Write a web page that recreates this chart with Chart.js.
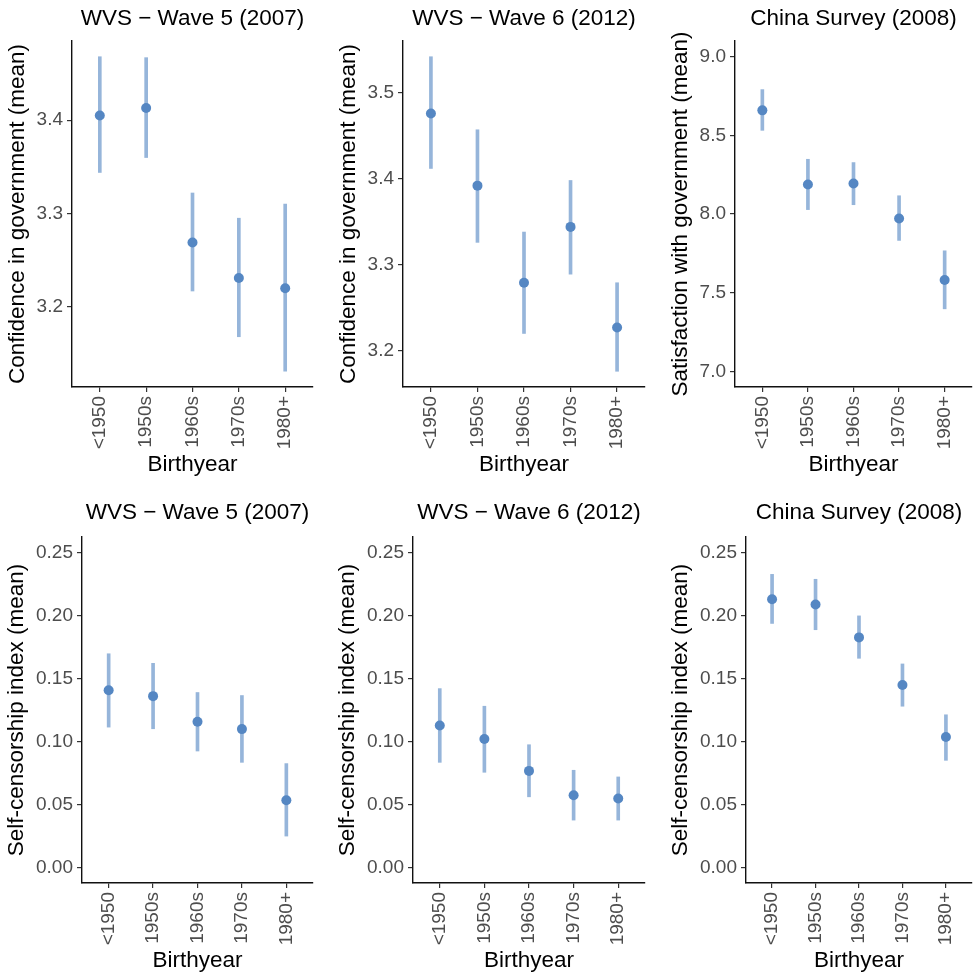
<!DOCTYPE html>
<html>
<head>
<meta charset="utf-8">
<script src="https://cdn.jsdelivr.net/npm/chart.js@4"></script>
<style>
  html, body { margin: 0; padding: 0; background: #fff; }
  #wrap { position: relative; width: 977px; height: 978px; overflow: hidden; }
  #wrap canvas { position: absolute; }
</style>
</head>
<body>
<div id="wrap"></div>
<script>
// categories
const birthYears = ['<1950', '1950s', '1960s', '1970s', '1980+'];

// WVS wave 5 - confidence in government
const wvs5ConfMean = [3.405, 3.413, 3.269, 3.231, 3.220];
const wvs5ConfLow  = [3.344, 3.360, 3.217, 3.168, 3.131];
const wvs5ConfHigh = [3.468, 3.467, 3.322, 3.295, 3.310];

// WVS wave 6 - confidence in government
const wvs6ConfMean = [3.476, 3.392, 3.279, 3.344, 3.227];
const wvs6ConfLow  = [3.412, 3.326, 3.220, 3.289, 3.176];
const wvs6ConfHigh = [3.542, 3.457, 3.338, 3.398, 3.279];

// China survey - satisfaction with government
const chinaSatMean = [8.659, 8.188, 8.194, 7.971, 7.580];
const chinaSatLow  = [8.532, 8.028, 8.059, 7.832, 7.397];
const chinaSatHigh = [8.791, 8.348, 8.327, 8.116, 7.766];

// self-censorship index
const wvs5SelfMean = [0.1407, 0.1360, 0.1156, 0.1098, 0.0533];
const wvs5SelfLow  = [0.1114, 0.1101, 0.0924, 0.0834, 0.0248];
const wvs5SelfHigh = [0.1697, 0.1621, 0.1389, 0.1365, 0.0824];

const wvs6SelfMean = [0.1127, 0.1019, 0.0766, 0.0573, 0.0546];
const wvs6SelfLow  = [0.0834, 0.0755, 0.0560, 0.0375, 0.0375];
const wvs6SelfHigh = [0.1420, 0.1280, 0.0974, 0.0771, 0.0718];

const chinaSelfMean = [0.2130, 0.2088, 0.1827, 0.1449, 0.1035];
const chinaSelfLow  = [0.1938, 0.1888, 0.1661, 0.1280, 0.0850];
const chinaSelfHigh = [0.2328, 0.2289, 0.1998, 0.1616, 0.1212];

// y tick labels
const ticksConfWvs5 = [3.2, 3.3, 3.4];
const ticksConfWvs6 = [3.2, 3.3, 3.4, 3.5];
const ticksSat = [7.0, 7.5, 8.0, 8.5, 9.0];
const ticksSelf = [0, 0.05, 0.10, 0.15, 0.20, 0.25];

const FONT = '"Liberation Sans", Arial, Helvetica, sans-serif';
const POINT_COLOR = '#5587c3';
const BAR_COLOR = '#96b5da';

// panel boxes (layout only)
const panels = [
    { title: 'WVS \u2212 Wave 5 (2007)', yTitle: 'Confidence in government (mean)',
      mean: wvs5ConfMean, low: wvs5ConfLow, high: wvs5ConfHigh, ticks: ticksConfWvs5, digits: 1,
      left: 0, top: 0, w: 320, h: 480, yw: 72, padR: 7, row: 0 },
    { title: 'WVS \u2212 Wave 6 (2012)', yTitle: 'Confidence in government (mean)',
      mean: wvs6ConfMean, low: wvs6ConfLow, high: wvs6ConfHigh, ticks: ticksConfWvs6, digits: 1,
      left: 320, top: 0, w: 330, h: 480, yw: 83, padR: 5, row: 0 },
    { title: 'China Survey (2008)', yTitle: 'Satisfaction with government (mean)',
      mean: chinaSatMean, low: chinaSatLow, high: chinaSatHigh, ticks: ticksSat, digits: 1, limits: [7, 9],
      left: 650, top: 0, w: 327, h: 480, yw: 85, padR: 0, row: 0 },
    { title: 'WVS \u2212 Wave 5 (2007)', yTitle: 'Self-censorship index (mean)',
      mean: wvs5SelfMean, low: wvs5SelfLow, high: wvs5SelfHigh, ticks: ticksSelf, digits: 2, limits: [0, 0.25],
      left: 0, top: 490, w: 320, h: 488, yw: 82, padR: 7, row: 1 },
    { title: 'WVS \u2212 Wave 6 (2012)', yTitle: 'Self-censorship index (mean)',
      mean: wvs6SelfMean, low: wvs6SelfLow, high: wvs6SelfHigh, ticks: ticksSelf, digits: 2, limits: [0, 0.25],
      left: 320, top: 490, w: 330, h: 488, yw: 93, padR: 5, row: 1 },
    { title: 'China Survey (2008)', yTitle: 'Self-censorship index (mean)',
      mean: chinaSelfMean, low: chinaSelfLow, high: chinaSelfHigh, ticks: ticksSelf, digits: 2, limits: [0, 0.25],
      left: 650, top: 490, w: 327, h: 488, yw: 96, padR: 0, row: 1 }
];

// row-specific vertical spacing
const rowLayout = [
    { titlePad: { top: 5, bottom: 9 }, xh: 93, xTitlePad: 2, yGap: 54 },
    { titlePad: { top: 9, bottom: 11 }, xh: 95, xTitlePad: 4, yGap: 65 }
];

function makePanel(p) {
    const canvas = document.createElement('canvas');
    canvas.width = p.w;
    canvas.height = p.h;
    canvas.style.left = p.left + 'px';
    canvas.style.top = p.top + 'px';
    document.getElementById('wrap').appendChild(canvas);

    const rl = rowLayout[p.row];
    // ggplot-like 5% expansion of the range
    let lo = p.limits ? p.limits[0] : Math.min(...p.low);
    let hi = p.limits ? p.limits[1] : Math.max(...p.high);
    const ex = (hi - lo) * 0.05;

    const titleSize = 22.5;
    const yTitlePad = p.yw - rl.yGap - titleSize * 1.2 / 2;

    new Chart(canvas, {
        type: 'bar',
        data: {
            datasets: [{
                type: 'line',
                data: p.mean.map((v, i) => ({ x: i, y: v })),
                showLine: false,
                pointStyle: 'circle',
                pointRadius: 5,
                pointBackgroundColor: POINT_COLOR,
                pointBorderWidth: 0,
                order: 0
            }, {
                type: 'bar',
                data: p.low.map((v, i) => ({ x: i, y: [v, p.high[i]] })),
                backgroundColor: BAR_COLOR,
                barThickness: 3,
                order: 1
            }]
        },
        options: {
            responsive: false,
            animation: false,
            layout: { padding: { left: 0, right: p.padR, top: 0, bottom: 0 } },
            plugins: {
                legend: { display: false },
                tooltip: { enabled: false },
                title: {
                    display: true,
                    text: p.title,
                    fullSize: false,
                    color: '#000',
                    font: { family: FONT, size: titleSize, weight: 'normal' },
                    padding: rl.titlePad
                }
            },
            scales: {
                x: {
                    type: 'linear',
                    min: -0.6,
                    max: birthYears.length - 0.4,
                    offset: false,
                    afterBuildTicks: (scale) => { scale.ticks = birthYears.map((c, i) => ({ value: i })); },
                    afterFit: (scale) => { scale.height = rl.xh; },
                    ticks: {
                        autoSkip: false,
                        minRotation: 90,
                        maxRotation: 90,
                        padding: 4,
                        color: '#4d4d4d',
                        font: { family: FONT, size: 19 },
                        callback: (v) => birthYears[v]
                    },
                    grid: { offset: false, drawOnChartArea: false, drawTicks: true, tickLength: 5, color: '#333', lineWidth: 1.2 },
                    border: { display: true, color: '#111', width: 1.4 },
                    title: {
                        display: true,
                        text: 'Birthyear',
                        color: '#000',
                        font: { family: FONT, size: 22.5 },
                        padding: { top: 0, bottom: rl.xTitlePad }
                    }
                },
                y: {
                    type: 'linear',
                    min: lo - ex,
                    max: hi + ex,
                    afterBuildTicks: (scale) => { scale.ticks = p.ticks.map(v => ({ value: v })); },
                    afterFit: (scale) => { scale.width = p.yw; },
                    ticks: {
                        padding: 4,
                        color: '#4d4d4d',
                        font: { family: FONT, size: 19 },
                        callback: (v) => Number(v).toFixed(p.digits)
                    },
                    grid: { drawOnChartArea: false, drawTicks: true, tickLength: 5, color: '#333', lineWidth: 1.2 },
                    border: { display: true, color: '#111', width: 1.4 },
                    title: {
                        display: true,
                        text: p.yTitle,
                        color: '#000',
                        font: { family: FONT, size: 22.5 },
                        padding: { top: yTitlePad, bottom: 0 }
                    }
                }
            }
        }
    });
}

panels.forEach(makePanel);
</script>
</body>
</html>
